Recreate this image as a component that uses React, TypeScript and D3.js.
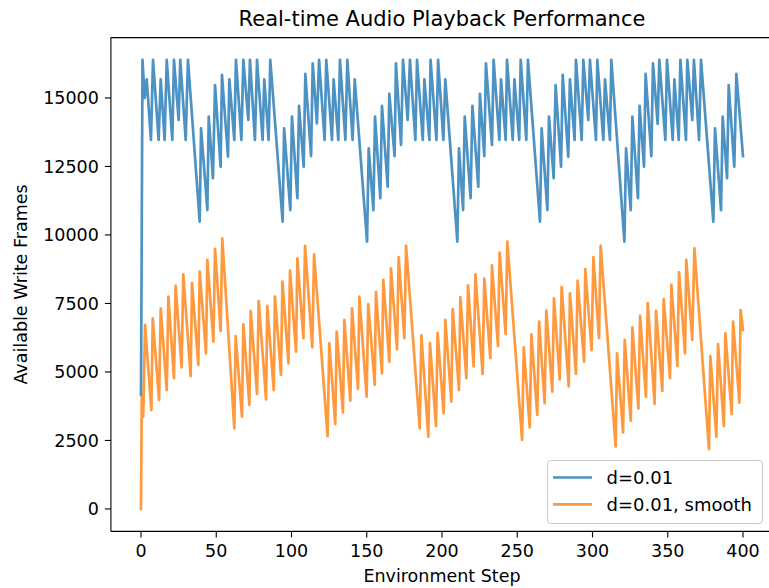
import React from "react";
import * as d3 from "d3";

const titleText = "Real-time Audio Playback Performance";
const xLabelText = "Environment Step";
const yLabelText = "Available Write Frames";
const seriesNames = ["d=0.01", "d=0.01, smooth"];
const seriesColors = ["#1f77b4", "#ff7f0e"];
const xTicks = [0, 50, 100, 150, 200, 250, 300, 350, 400];
const yTicks = [0, 2500, 5000, 7500, 10000, 12500, 15000];

// turning points [step, frames]
const rawSeries: [number, number][] = [
  [0, 4160], [1, 16390], [2.4, 15000], [3.8, 15680], [6.6, 13470], [8, 16390], [11.7, 13470], [13.1, 15680],
  [15.7, 13470], [17.1, 16390], [20.8, 13470], [21.9, 16390], [25, 14200], [26.1, 16390], [29.7, 13470], [31.2, 16390],
  [39, 10490], [39.9, 13890], [44.1, 10910], [45, 14320], [47.8, 12070], [49.2, 15470], [52.9, 12490], [53.8, 15840],
  [57.8, 12860], [58.7, 15680], [62, 13470], [63.1, 16390], [66.7, 13470], [68, 16390], [71.3, 14200], [72.4, 16390],
  [75.7, 13470], [77.1, 16390], [80.8, 13470], [81.9, 15680], [84.8, 13470], [85.9, 16390], [94.1, 10490], [95.1, 13890],
  [99.2, 10910], [100.3, 14320], [103.9, 11340], [105, 14710], [108.1, 12490], [109.2, 15880], [113, 12880], [114.1, 16265],
  [116.9, 14075], [118.3, 16390], [122, 13470], [123.1, 16390], [126.9, 13470], [128, 15680], [131.1, 13470], [132.2, 16390],
  [135.8, 13470], [137.1, 16390], [140.6, 13470], [142, 15680], [150.2, 9760], [151.3, 13160], [154.4, 10910], [155.5, 14320],
  [159, 11340], [160.1, 14710], [163.9, 11760], [165, 15150], [168.5, 12880], [169.4, 16265], [172.8, 13285], [174.1, 16390],
  [177.2, 14200], [178.7, 16390], [182.3, 13470], [183.4, 16390], [187.2, 13470], [188.3, 15680], [191.6, 13470], [192.4, 16390],
  [196.3, 13470], [197.4, 16390], [200.9, 13470], [202.2, 15680], [210.2, 9760], [211.3, 13160], [214, 10910], [215.1, 14320],
  [219, 11340], [220.2, 14710], [224.1, 11760], [225.2, 15150], [228.1, 12880], [229.2, 16265], [233.2, 13285], [234.3, 16390],
  [238.1, 13470], [239.2, 15680], [242.3, 13470], [243.2, 16390], [247, 13470], [248.1, 15680], [251.3, 13470], [252.3, 16390],
  [256, 13470], [257.1, 16390], [265.1, 10490], [266.2, 13890], [270, 10910], [271.1, 14320], [274.2, 12070], [275.5, 15470],
  [279.1, 12490], [280.2, 15840], [283.9, 12860], [285, 15680], [288.1, 13470], [289, 16390], [292.8, 13470], [293.9, 16390],
  [297.2, 14200], [298.3, 16390], [302.3, 13470], [303.2, 16390], [307.2, 13470], [308.3, 15680], [311.6, 13470], [312.5, 16390],
  [321.2, 9760], [322.3, 13160], [325.4, 10910], [326.5, 14320], [330.2, 11340], [331.3, 14710], [334.2, 12490], [335.3, 15880],
  [339.1, 12880], [340.2, 16265], [343.3, 14050], [344.4, 16390], [348.4, 13470], [349.5, 16390], [353.3, 13470], [354.4, 15680],
  [357.3, 13470], [358.4, 16390], [362.1, 13470], [363, 16390], [366.3, 14200], [367.4, 16390], [370.8, 13470], [372.1, 16390],
  [380.3, 10490], [381.4, 13890], [385.4, 10910], [386.5, 14320], [389.4, 12070], [390.5, 15470], [394.2, 12490], [395.6, 15880],
  [400, 12880],
];

const smoothSeries: [number, number][] = [
  [0, 0], [0.5, 4100], [1.5, 3370], [2.7, 6715], [6.9, 3610], [7.8, 6960], [12, 3980], [13.1, 7320],
  [17.1, 4340], [18.2, 7750], [21.9, 4770], [23, 8150], [27, 5170], [28.1, 8560], [33, 4850], [33.9, 8240],
  [38.1, 5255], [39, 8660], [43.2, 5680], [44.1, 9090], [48.1, 6110], [49.2, 9490], [52.9, 6500], [54, 9880],
  [62, 2940], [62.9, 6310], [67.1, 3370], [68, 6740], [72, 3800], [72.9, 7230], [77.1, 4200], [78.2, 7590],
  [83.1, 4000], [83.9, 7410], [88.2, 4340], [89, 7750], [93, 4890], [94, 8300], [98, 5316], [99, 8700],
  [103, 5740], [103.9, 9150], [107.9, 6230], [109, 9600], [113.8, 5900], [115, 9290], [124, 2660], [125.1, 6050],
  [129.1, 3100], [130, 6470], [134.2, 3520], [135.1, 6900], [139.1, 3950], [140.2, 7320], [144.2, 4380], [145.1, 7750],
  [149.9, 4100], [151, 7480], [155.3, 4530], [156.1, 7920], [160.1, 4950], [161, 8360], [165, 5380], [166.1, 8780],
  [170.1, 5830], [171.2, 9190], [175, 6230], [176.1, 9610], [185.2, 2940], [186.3, 6340], [190.9, 2640], [192, 6050],
  [196, 3030], [197.1, 6420], [201.1, 3490], [202.2, 6900], [206.2, 3920], [207.1, 7290], [211.3, 4340], [212.2, 7730],
  [216.2, 4770], [217.3, 8160], [221, 5200], [222.2, 8560], [227, 4930], [228.1, 8410], [232.1, 5500], [233.2, 8890],
  [237.2, 5950], [238.3, 9355], [242.3, 6390], [243.4, 9760], [253.2, 2520], [254.3, 5900], [258.3, 2980], [259.4, 6375],
  [263.3, 3430], [264.5, 6840], [268.2, 3860], [269.3, 7240], [273.3, 4280], [274.4, 7690], [278.2, 4730], [279.5, 8110],
  [284.2, 4470], [285, 7870], [289, 4930], [290.1, 8330], [294.4, 5380], [295.2, 8750], [299.4, 5800], [300.6, 9190],
  [304.3, 6230], [305.4, 9610], [315.4, 2280], [316.3, 5680], [320.3, 2790], [321.4, 6170], [325.4, 3220], [326.5, 6630],
  [330.5, 3670], [331.6, 7060], [335.5, 4100], [336.7, 7510], [341.3, 3830], [342.2, 7230], [346.4, 4310], [347.3, 7660],
  [351.5, 4770], [352.4, 8180], [356.4, 5220], [357.5, 8640], [361.5, 5680], [362.3, 9090], [366.3, 6170], [367.7, 9510],
  [377.4, 2180], [378.3, 5580], [382.3, 2640], [383.4, 6020], [387.3, 3030], [388.3, 6410], [392.5, 3470], [393.4, 6840],
  [397.6, 3880], [398.4, 7260], [400, 6530],
];

const W = 769;
const H = 588;
const FONT = "DejaVu Sans, sans-serif";

export default function App() {
  const x = d3.scaleLinear().domain([-20, 420]).range([110.9, 773.1]);
  const y = d3.scaleLinear().domain([-819.2, 17203.2]).range([531.4, 37.6]);
  const line = d3
    .line<[number, number]>()
    .x((d) => x(d[0]))
    .y((d) => y(d[1]));
  const series = [rawSeries, smoothSeries];
  const left = x.range()[0];
  const right = x.range()[1];
  const top = y.range()[1];
  const bottom = y.range()[0];
  const tickLen = 6;
  const tickFont = 17.5;
  const cx = (left + right) / 2;

  return (
    <svg
      width={W}
      height={H}
      style={{ position: "absolute", left: 0, top: 0, background: "#fff" }}
      fontFamily={FONT}
    >
      <defs>
        <clipPath id="plot">
          <rect x={left} y={top} width={right - left} height={bottom - top} />
        </clipPath>
      </defs>
      <rect x={0} y={0} width={W} height={H} fill="#fff" />
      <g clipPath="url(#plot)">
        {series.map((s, i) => (
          <path
            key={i}
            d={line(s) || ""}
            fill="none"
            stroke={seriesColors[i]}
            strokeOpacity={0.8}
            strokeWidth={2.7}
            strokeLinejoin="round"
            strokeLinecap="square"
          />
        ))}
      </g>
      {/* spines */}
      <g stroke="#000" strokeWidth={1.1} fill="none">
        <line x1={left} y1={top} x2={left} y2={bottom} />
        <line x1={left} y1={bottom} x2={right} y2={bottom} />
        <line x1={left} y1={top} x2={right} y2={top} />
        <line x1={right} y1={top} x2={right} y2={bottom} />
      </g>
      {/* x ticks */}
      {xTicks.map((t) => (
        <g key={"x" + t}>
          <line x1={x(t)} x2={x(t)} y1={bottom} y2={bottom + tickLen} stroke="#000" strokeWidth={1.1} />
          <text x={x(t)} y={bottom + tickLen + 6 + tickFont * 0.76} textAnchor="middle" fontSize={tickFont} fill="#000">
            {t}
          </text>
        </g>
      ))}
      {/* y ticks */}
      {yTicks.map((t) => (
        <g key={"y" + t}>
          <line x1={left - tickLen} x2={left} y1={y(t)} y2={y(t)} stroke="#000" strokeWidth={1.1} />
          <text x={left - tickLen - 6} y={y(t)} dy="0.36em" textAnchor="end" fontSize={tickFont} fill="#000">
            {t}
          </text>
        </g>
      ))}
      <text x={cx} y={26} textAnchor="middle" fontSize={21} fill="#000">
        {titleText}
      </text>
      <text x={cx} y={582} textAnchor="middle" fontSize={17.5} fill="#000">
        {xLabelText}
      </text>
      <text
        transform={`translate(27,${(top + bottom) / 2}) rotate(-90)`}
        textAnchor="middle"
        fontSize={17.5}
        fill="#000"
      >
        {yLabelText}
      </text>
      {/* legend */}
      <g>
        <rect x={547.5} y={460.5} width={215} height={63} rx={4} fill="#fff" fillOpacity={0.8} stroke="#cccccc" strokeWidth={1.1} />
        {seriesNames.map((n, i) => (
          <g key={n}>
            <line
              x1={553}
              x2={592}
              y1={477.5 + i * 26.8}
              y2={477.5 + i * 26.8}
              stroke={seriesColors[i]}
              strokeOpacity={0.8}
              strokeWidth={2.7}
            />
            <text x={606.5} y={477.5 + i * 26.8} dy="0.36em" fontSize={18} fill="#000">
              {n}
            </text>
          </g>
        ))}
      </g>
    </svg>
  );
}
